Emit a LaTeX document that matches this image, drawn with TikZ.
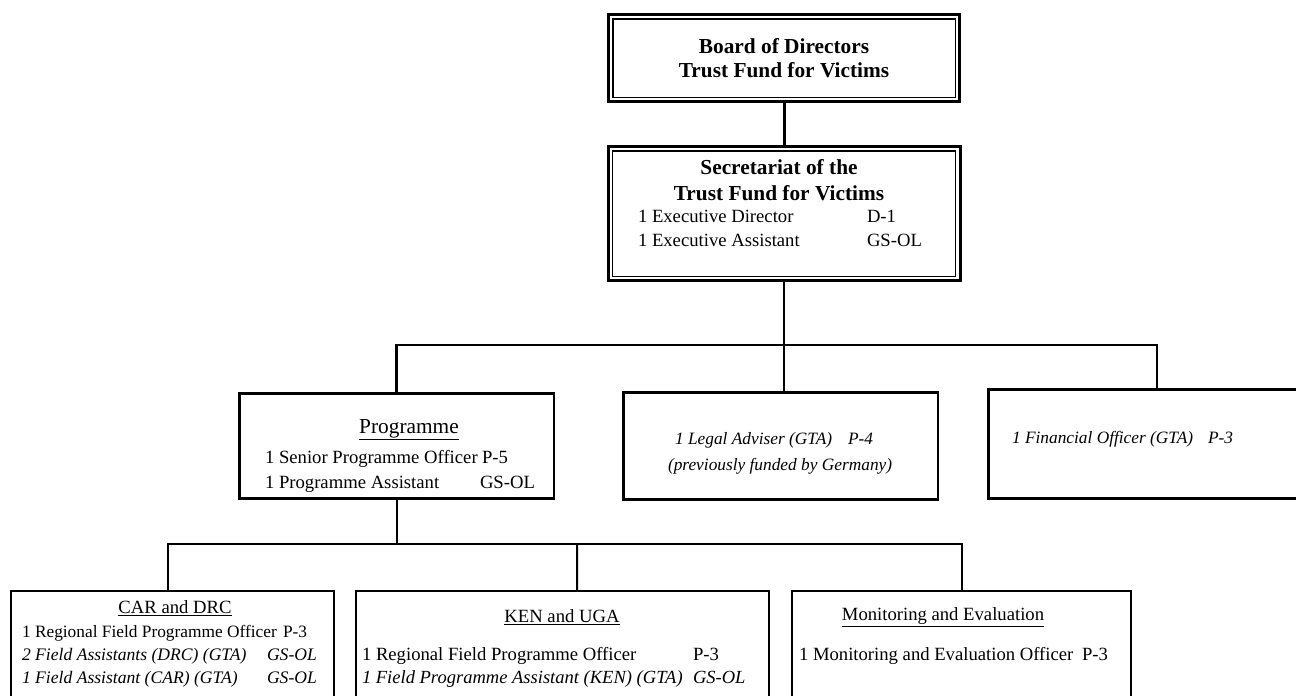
\documentclass[tikz,border=0pt]{standalone}
\usepackage{fontspec}
\setmainfont{Liberation Serif}
\usetikzlibrary{calc}
\begin{document}
\begin{tikzpicture}[x=0.75pt,y=-0.75pt,
  every node/.style={inner sep=0pt, outer sep=0pt},
  dblbox/.style={draw, line width=2.25pt, rectangle, minimum width=#1},
  midbox/.style={draw, line width=1.9pt, rectangle},
  lowbox/.style={draw, line width=1.5pt, rectangle, minimum height=103.5pt},
  txtbold/.style={font=\fontsize{16}{19}\selectfont\bfseries, anchor=base},
  txtreg/.style={font=\fontsize{14}{17}\selectfont, anchor=base west},
  txthead/.style={font=\fontsize{16}{19}\selectfont, anchor=base},
  txtsub/.style={font=\fontsize{14}{17}\selectfont, anchor=base},
  txtital/.style={font=\fontsize{13}{15}\selectfont\itshape, anchor=base west},
  txtkital/.style={font=\fontsize{13.9}{16}\selectfont\itshape, anchor=base west},
  txtcreg/.style={font=\fontsize{13}{15}\selectfont, anchor=base west},
  txtcital/.style={font=\fontsize{13.2}{15}\selectfont\itshape, anchor=base west},
  inner/.style={line width=1.1pt},
  conA/.style={line width=2.25pt},
  conB/.style={line width=1.9pt},
  conC/.style={line width=1.5pt},
]
\useasboundingbox (0,0) rectangle (1296,696);
\clip (0,0) rectangle (1296,696);

% ---- top boxes (double border)
\node[dblbox=263.25pt, minimum height=65.25pt] (board) at (784,58) {};
\draw[inner] ([shift={(3.2pt,-3.2pt)}]board.north west) rectangle ([shift={(-3.2pt,3.2pt)}]board.south east);
\node[dblbox=264pt, minimum height=100.5pt] (sec) at (784,213.5) {};
\draw[inner] ([shift={(3.2pt,-3.2pt)}]sec.north west) rectangle ([shift={(-3.2pt,3.2pt)}]sec.south east);

% ---- middle row
\node[midbox, minimum width=235.9pt, minimum height=79.1pt] (prog) at (396.5,446) {};
\node[midbox, minimum width=235.9pt, minimum height=80.6pt] (legal) at (780.5,446) {};
\node[midbox, minimum width=253pt, minimum height=82.1pt] (fin) at (1157,444) {};

% ---- bottom row
\node[lowbox, minimum width=242.25pt] (car) at (172.5,660) {};
\node[lowbox, minimum width=309.75pt] (ken) at (562.5,660) {};
\node[lowbox, minimum width=254.25pt] (me) at (961.5,660) {};

% ---- connectors
\coordinate (hub) at (784,345);
\coordinate (bhub) at (577,544);
\draw[conA] (board.south) -- (board.south |- sec.north);
\draw[conB] (sec.south) -- (sec.south |- legal.north);
\draw[conB] (prog.north) |- (hub) -| (fin.north);
\draw[conC] (prog.south) -- (prog.south |- bhub);
\draw[conC] ([xshift=-3.4pt]car.north) |- (bhub) -| (me.north);
\draw[conC] (bhub) -- ([xshift=10.9pt]ken.north);

% ---- texts: board
\node[txtbold] (bd1) at (784,53) {Board of Directors};
\node[txtbold] (bd2) at (784,77) {Trust Fund for Victims};
% secretariat
\node[txtbold] (sc1) at (779,174) {Secretariat of the};
\node[txtbold] (sc2) at (779,200) {Trust Fund for Victims};
\node[txtreg] (sc3) at (638,222) {1 Executive Director};
\node[txtreg] (sc4) at (867,222) {D-1};
\node[txtreg] (sc5) at (638,246) {1 Executive Assistant};
\node[txtreg] (sc6) at (867,246) {GS-OL};
% programme
\node[txthead] (pg1) at (409,433) {\underline{Programme}};
\node[txtreg] (pg2) at (265,463) {1 Senior Programme Officer};
\node[txtreg] (pg3) at (482,463) {P-5};
\node[txtreg] (pg4) at (265,488) {1 Programme Assistant};
\node[txtreg] (pg5) at (480,488) {GS-OL};
% legal
\node[txtital] (lg1) at (675,444) {1 Legal Adviser (GTA)};
\node[txtital] (lg2) at (848,444) {P-4};
\node[txtital] (lg3) at (668,470) {(previously funded by Germany)};
% financial
\node[txtital] (fn1) at (1012,443) {1 Financial Officer (GTA)};
\node[txtital] (fn2) at (1208,443) {P-3};
% CAR and DRC
\node[txtsub] (cr1) at (175,613) {\underline{CAR and DRC}};
\node[txtcreg] (cr2) at (22,637) {1 Regional Field Programme Officer};
\node[txtcreg] (cr3) at (283,637) {P-3};
\node[txtcital] (cr4) at (22,660) {2 Field Assistants (DRC) (GTA)};
\node[txtcital] (cr5) at (267,660) {GS-OL};
\node[txtcital] (cr6) at (22,683) {1 Field Assistant (CAR) (GTA)};
\node[txtcital] (cr7) at (267,683) {GS-OL};
% KEN and UGA
\node[txtsub] (kn1) at (562,622) {\underline{KEN and UGA}};
\node[txtreg] (kn2) at (362,660) {1 Regional Field Programme Officer};
\node[txtreg] (kn3) at (693,660) {P-3};
\node[txtkital] (kn4) at (362,683) {1 Field Programme Assistant (KEN) (GTA)};
\node[txtkital] (kn5) at (693,683) {GS-OL};
% Monitoring and Evaluation
\node[txtsub] (me1) at (943,620) {\underline{Monitoring and Evaluation}};
\node[txtreg] (me2) at (799,660) {1 Monitoring and Evaluation Officer};
\node[txtreg] (me3) at (1082,660) {P-3};
\end{tikzpicture}
\end{document}
